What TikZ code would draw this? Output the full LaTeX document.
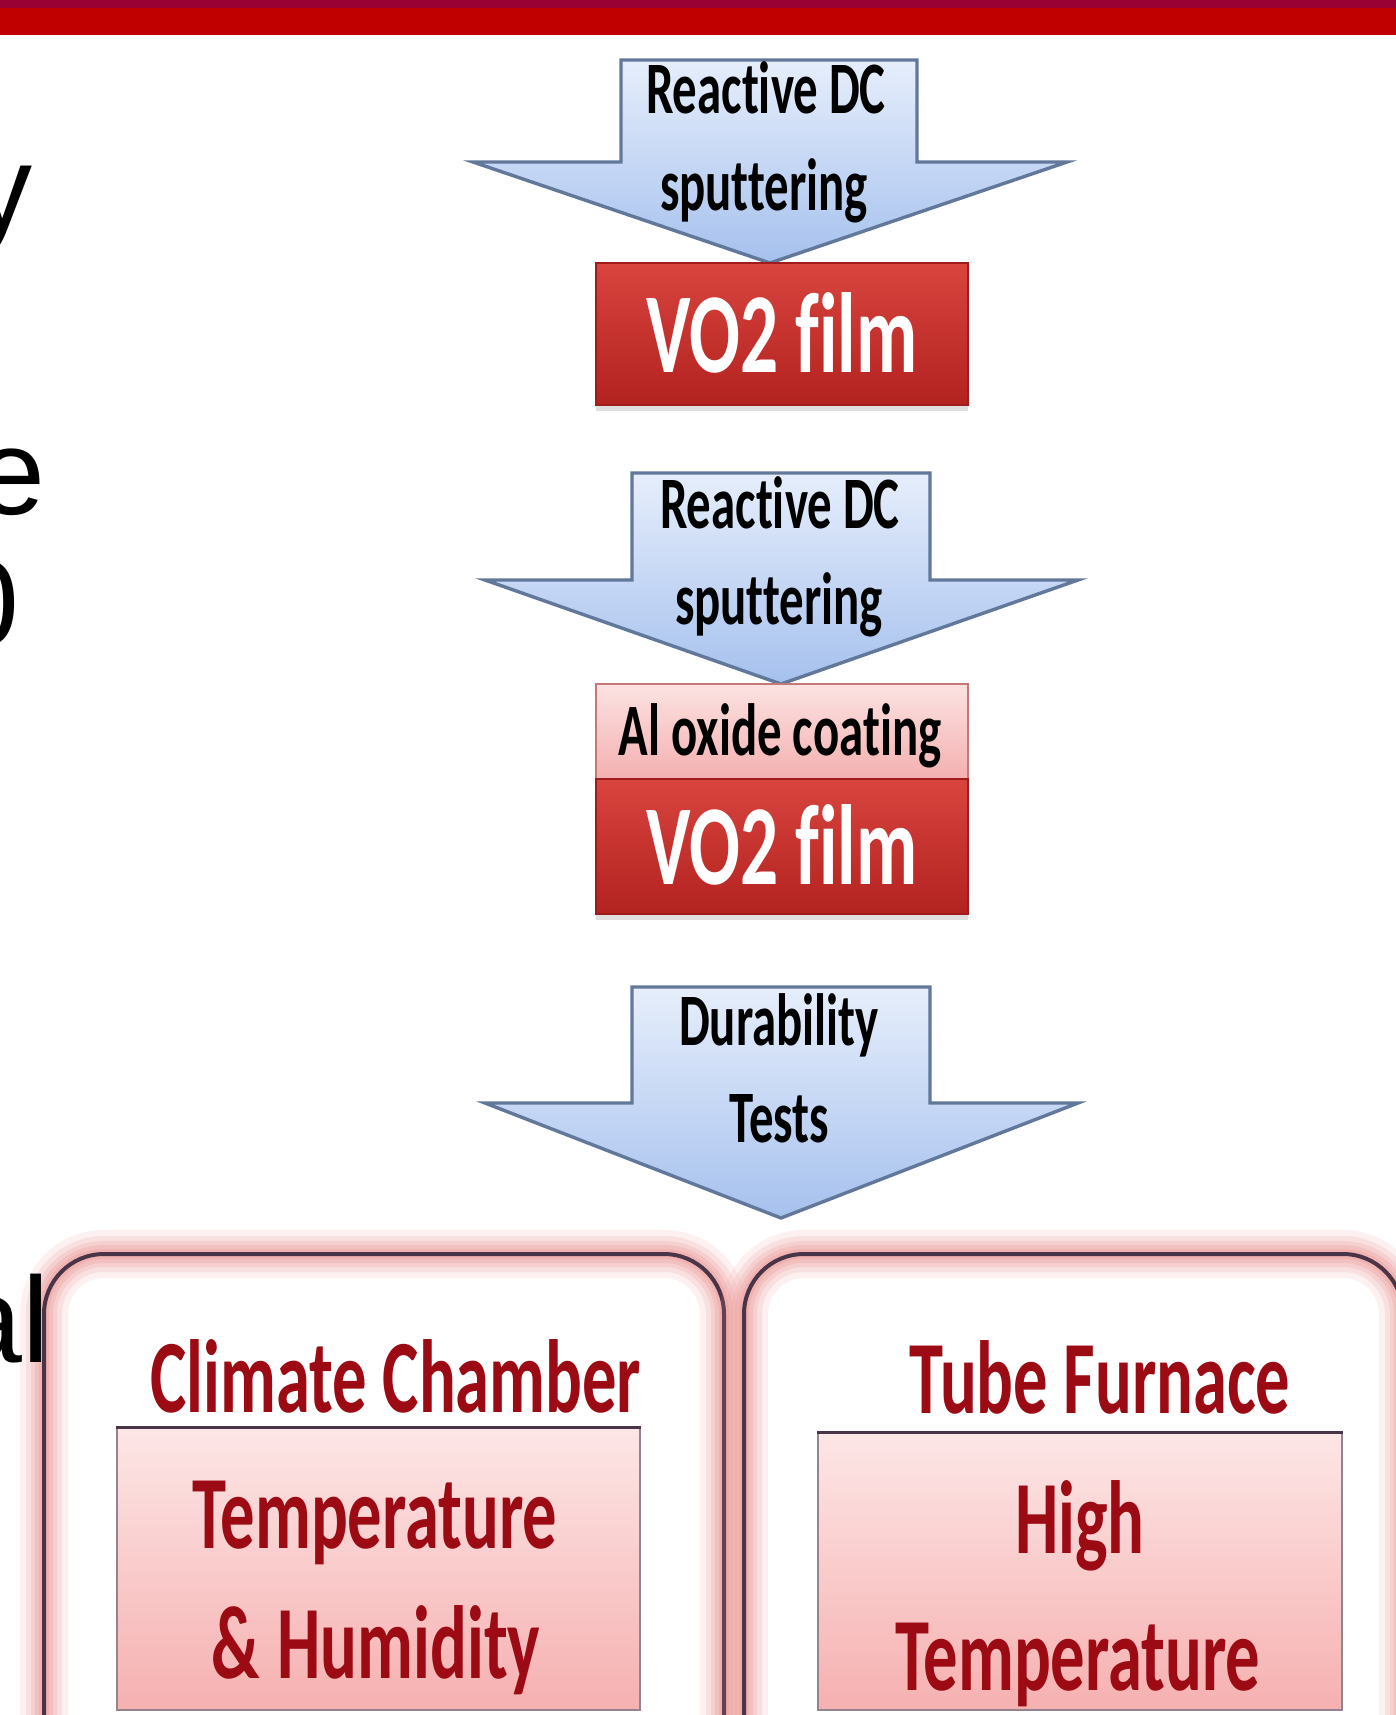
\documentclass[tikz,border=0pt]{standalone}
\usepackage{fontspec}
\setmainfont{Liberation Sans}
\newfontfamily\cfont[FakeStretch=0.66, Ligatures=NoCommon]{Carlito}
\usetikzlibrary{shadows}
\definecolor{barmaroon}{HTML}{990033}
\definecolor{barred}{HTML}{C00000}
\definecolor{arrowtop}{HTML}{E6EEFB}
\definecolor{arrowbot}{HTML}{A6C1EE}
\definecolor{arrowdraw}{HTML}{62789A}
\definecolor{votop}{HTML}{D9443E}
\definecolor{vobot}{HTML}{B2221F}
\definecolor{vodraw}{HTML}{A01C1C}
\definecolor{altop}{HTML}{FCE2E2}
\definecolor{albot}{HTML}{F4B0B0}
\definecolor{boxborder}{HTML}{4A3448}
\definecolor{glowc}{HTML}{EE9A98}
\definecolor{labelred}{HTML}{9C0A14}
\definecolor{innertop}{HTML}{FDE6E6}
\definecolor{innerbot}{HTML}{F6B0B0}
\tikzset{
  arrowshape/.style={top color=arrowtop, bottom color=arrowbot, draw=arrowdraw, line width=1.7pt, line join=miter},
  arrowhalo/.style={draw=white, line width=9pt, opacity=0.8, line join=round},
  atext/.style={font=\cfont\bfseries\fontsize{37}{40}\selectfont, anchor=base, inner sep=0pt, text=black},
  votext/.style={font=\cfont\bfseries\fontsize{57}{60}\selectfont, anchor=base, inner sep=0pt, text=white},
  labtext/.style={font=\cfont\bfseries\fontsize{52}{56}\selectfont, anchor=base, inner sep=0pt, text=labelred},
  slidetext/.style={font=\fontsize{61}{70}\selectfont, anchor=base east, inner sep=0pt, text=black},
  vobox/.style={rectangle, inner sep=0pt, minimum width=186pt, top color=votop, bottom color=vobot, draw=vodraw, line width=0.6pt,
    drop shadow={opacity=0.25, shadow xshift=0pt, shadow yshift=-3pt}},
  albox/.style={rectangle, inner sep=0pt, minimum width=186pt, top color=altop, bottom color=albot, draw=vodraw!60, line width=0.6pt},
  innerbox/.style={rectangle, inner sep=0pt, top color=innertop, bottom color=innerbot, draw=boxborder!60, line width=0.6pt},
  bigbox/.style={rectangle, rounded corners=30pt, inner sep=0pt, fill=white},
}
\newcommand{\glowrect}[4]{%
  \foreach \w/\o in {48/0.14,36/0.18,26/0.22,18/0.28,10/0.35}{%
    \draw[glowc, line width=\w*0.5pt, opacity=\o, rounded corners=30pt] (#1,#2) rectangle (#3,#4);}%
  \draw[boxborder, line width=2pt, rounded corners=30pt] (#1,#2) rectangle (#3,#4);}
\begin{document}
\begin{tikzpicture}[x=0.5pt,y=0.5pt]
\useasboundingbox (0,0) rectangle (1396,-1715);
\clip (0,0) rectangle (1396,-1715);
\fill[white] (0,0) rectangle (1396,-1715);
% title bars
\fill[barred] (0,0) rectangle (1396,-35);
\fill[barmaroon] (0,0) rectangle (1396,-8);

% big rounded boxes with glow
\node[bigbox, minimum width=340pt, minimum height=262pt] (lbox) at (384,-1518) {};
\node[bigbox, minimum width=329pt, minimum height=262pt] (rbox) at (1073.5,-1518) {};
\glowrect{44}{-1254}{724}{-1782}
\glowrect{744}{-1254}{1403}{-1782}

% inner rectangles
\node[innerbox, minimum width=261.5pt, minimum height=141pt] (linner) at (378.5,-1569) {};
\draw[boxborder, line width=1.6pt] (linner.north west) -- (linner.north east);
\node[innerbox, minimum width=262pt, minimum height=138.5pt] (rinner) at (1080,-1571.5) {};
\draw[boxborder, line width=1.6pt] (rinner.north west) -- (rinner.north east);

% box labels
\node[labtext] (cc) at (396,-1412) {Climate Chamber};
\node[labtext] (th) at (375,-1548) {Temperature};
\node[labtext] (hu) at (376,-1678) {\&\,Humidity};
\node[labtext] (tf) at (1100,-1413) {Tube Furnace};
\node[labtext] (hi) at (1080,-1553) {High};
\node[labtext] (ht) at (1078,-1690) {Temperature};

% arrow 1
\shade[arrowshape] (621,-60) -- (917,-60) -- (917,-162) -- (1067,-162) -- (770,-263) -- (473,-162) -- (621,-162) -- cycle;
\node[atext] (a1a) at (766,-113) {Reactive DC};
\node[atext] (a1b) at (764,-210) {sputtering};

% VO2 film 1
\node[vobox, minimum height=71pt] (vo1) at (782,-334) {};
\node[votext] (vo1t) at (782,-372) {VO2 film};

% arrow 2
\shade[arrowshape] (632,-473) -- (930,-473) -- (930,-580) -- (1078,-580) -- (781,-684) -- (485,-580) -- (632,-580) -- cycle;
\node[atext] (a2a) at (780,-528) {Reactive DC};
\node[atext] (a2b) at (779,-624) {sputtering};

% Al oxide + VO2 film 2
\node[albox, minimum height=47.5pt] (al) at (782,-731.5) {};
\node[atext] (alt) at (780,-755) {Al oxide coating};
\node[vobox, minimum height=67.5pt] (vo2) at (782,-846.5) {};
\node[votext] (vo2t) at (782,-884) {VO2 film};

% arrow 3
\path[arrowhalo] (632,-987) -- (930,-987) -- (930,-1103) -- (1078,-1103) -- (781,-1218) -- (485,-1103) -- (632,-1103) -- cycle;
\shade[arrowshape] (632,-987) -- (930,-987) -- (930,-1103) -- (1078,-1103) -- (781,-1218) -- (485,-1103) -- (632,-1103) -- cycle;
\node[atext] (a3a) at (779,-1045) {Durability};
\node[atext] (a3b) at (779,-1142) {Tests};

% slide text fragments at the left edge (cut off, as in the slide)
\node[slidetext] (s1) at (33,-230) {y};
\node[slidetext] (s2) at (46,-514) {e};
\node[slidetext] (s3) at (20,-645) {0};
\node[slidetext] (s4) at (50,-1362) {al};
\end{tikzpicture}
\end{document}
